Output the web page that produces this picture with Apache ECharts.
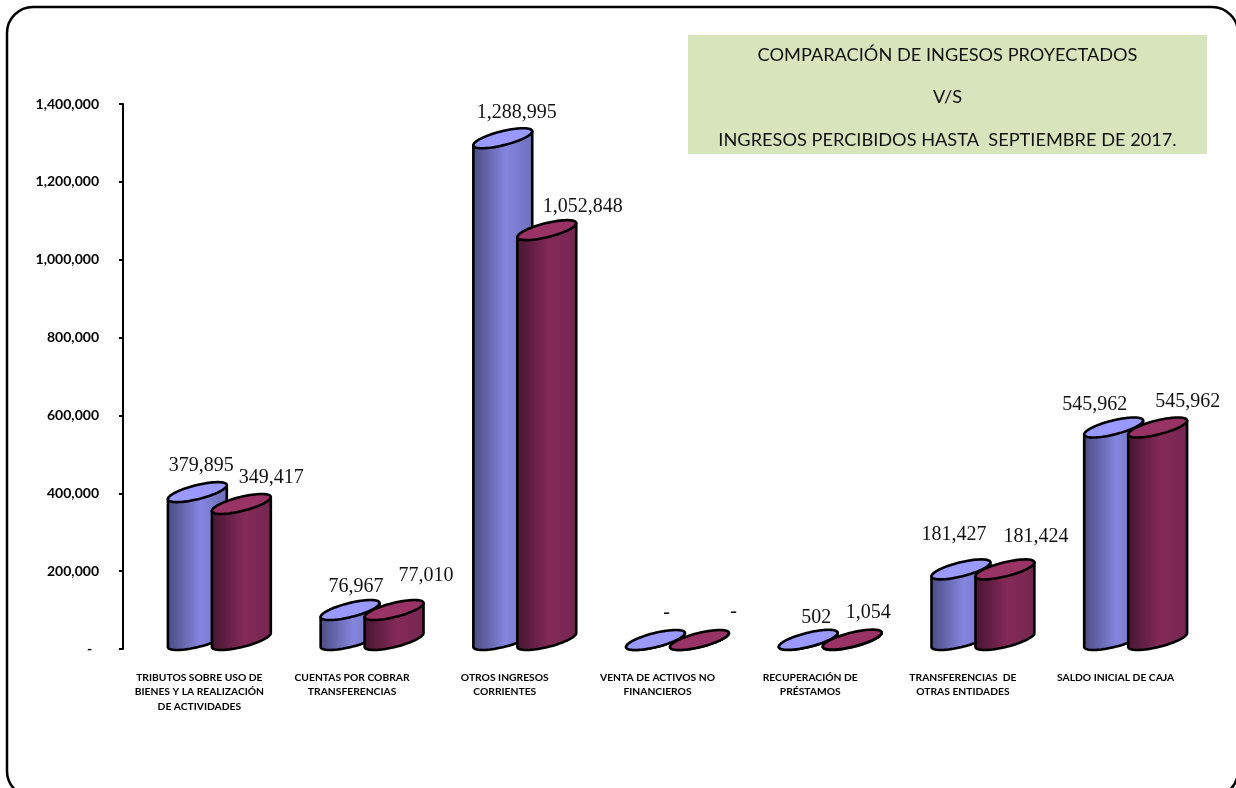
<!DOCTYPE html>
<html><head><meta charset="utf-8">
<script src="https://cdn.jsdelivr.net/npm/echarts@6/dist/echarts.min.js"></script>
<style>html,body{margin:0;padding:0;background:#fff}#c{width:1236px;height:788px}</style>
</head><body><div id="c"></div>
<script>
const categories = [
  'TRIBUTOS SOBRE USO DE\nBIENES Y LA REALIZACIÓN\nDE ACTIVIDADES',
  'CUENTAS POR COBRAR\nTRANSFERENCIAS',
  'OTROS INGRESOS\nCORRIENTES',
  'VENTA DE ACTIVOS NO\nFINANCIEROS',
  'RECUPERACIÓN DE\nPRÉSTAMOS',
  'TRANSFERENCIAS  DE\nOTRAS ENTIDADES',
  'SALDO INICIAL DE CAJA'
];
const proyectados = [379895, 76967, 1288995, 0, 502, 181427, 545962];
const percibidos  = [349417, 77010, 1052848, 0, 1054, 181424, 545962];
const titleLines = ['COMPARACIÓN DE INGESOS PROYECTADOS', 'V/S', 'INGRESOS PERCIBIDOS HASTA  SEPTIEMBRE DE 2017.'];
// label nudges from each cylinder's top centre (hand-placed in the original)
const labelShiftA = [[4,-26],[6,-23],[14,-25],[11,-27],[8,-22],[-7,-35],[-19,-23]];
const labelShiftB = [[30,-26],[32,-34],[36,-23],[34,-28],[16,-27],[31,-33],[30,-26]];

const fmt = v => v === 0 ? '-' : v.toLocaleString('en-US');
const A = 30.3, B = 7, T = 14 * Math.PI / 180, LIFT = 9;
function pt(cx, cy, u) {
  return [cx + A * Math.cos(u) * Math.cos(T) + B * Math.sin(u) * Math.sin(T),
          cy - A * Math.cos(u) * Math.sin(T) + B * Math.sin(u) * Math.cos(T)];
}
const U0 = Math.atan2(B * Math.sin(T), A * Math.cos(T));
function ring(cx, cy) { const p = []; for (let i = 0; i < 72; i++) p.push(pt(cx, cy, i / 72 * 2 * Math.PI)); return p; }
function makeSeries(name, values, dx, shifts, c) {
  return {
    name, type: 'custom', data: values.map((v, i) => [i, v]),
    encode: { x: 0, y: 1 }, clip: false,
    renderItem(params, api) {
      const i = api.value(0), v = api.value(1);
      const top = api.coord([i, v]), zero = api.coord([i, 0]);
      const cx = top[0] + dx, ty = top[1] - LIFT, by = zero[1] - LIFT;
      const body = [];
      for (let k = 0; k <= 36; k++) body.push(pt(cx, by, U0 + k / 36 * Math.PI));
      body.push(pt(cx, ty, U0 + Math.PI), pt(cx, ty, U0));
      const stroke = { stroke: '#000', lineWidth: 2.6, lineJoin: 'round' };
      const grad = new echarts.graphic.LinearGradient(0, 0, 1, 0, [
        { offset: 0, color: c[0] }, { offset: 0.55, color: c[1] }, { offset: 1, color: c[2] }]);
      const s = shifts[i];
      return { type: 'group', children: [
        { type: 'polygon', shape: { points: body }, style: { fill: grad, ...stroke } },
        { type: 'polygon', shape: { points: ring(cx, ty) }, style: { fill: c[3], ...stroke } },
        { type: 'text', style: { x: cx + s[0], y: ty + s[1], text: fmt(v), fill: '#111',
          font: '20px "Liberation Serif", serif', align: 'center', verticalAlign: 'middle' } }
      ]};
    }
  };
}
const chart = echarts.init(document.getElementById('c'), null, { renderer: 'canvas' });
chart.setOption({
  animation: false,
  backgroundColor: '#fff',
  grid: { left: 123, width: 1069, top: 104, height: 545 },
  xAxis: { type: 'category', data: categories,
    axisLine: { show: false }, axisTick: { show: false },
    axisLabel: { interval: 0, margin: 21, color: '#000', fontFamily: 'Lato', fontWeight: 'bold', fontSize: 10.3, lineHeight: 14.5, align: 'center' } },
  yAxis: { type: 'value', min: 0, max: 1400000, interval: 200000, splitLine: { show: false },
    axisLine: { show: true, lineStyle: { color: '#000', width: 2 } },
    axisTick: { show: true, length: 4, lineStyle: { color: '#000', width: 2 } },
    axisLabel: { formatter: v => v === 0 ? '-  ' : fmt(v), margin: 24, color: '#000', fontFamily: 'Lato', fontWeight: 'bold', fontSize: 14, padding: [4, 0, 0, 0] } },
  series: [
    makeSeries('Proyectados', proyectados, -2, labelShiftA, ['#4a4a80', '#8585e0', '#6e6eb8', '#9999ff']),
    makeSeries('Percibidos', percibidos, 42, labelShiftB, ['#451530', '#842a58', '#742650', '#993366'])
  ],
  graphic: [
    { type: 'rect', z: -1, silent: true, shape: { x: 7, y: 7, width: 1231, height: 790, r: 26 }, style: { fill: '#fff', stroke: '#000', lineWidth: 2.5 } },
    { type: 'rect', z: -1, silent: true, shape: { x: 688, y: 35, width: 519, height: 119 }, style: { fill: '#d8e4bc' } },
    ...titleLines.map((t, i) => ({ type: 'text', z: 5, silent: true, style: { x: 947.5, y: 55 + i * 42.5, text: t, align: 'center', verticalAlign: 'middle', fill: '#111', font: '18.2px Lato' } }))
  ]
});
</script></body></html>
